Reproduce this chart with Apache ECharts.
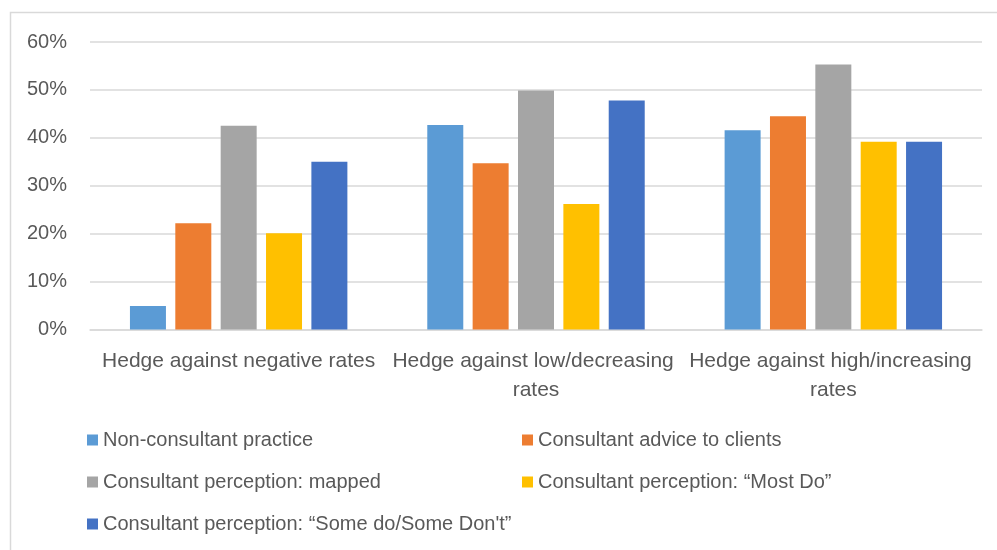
<!DOCTYPE html>
<html>
<head>
<meta charset="utf-8">
<title>Hedging practice by interest-rate scenario</title>
<script src="https://cdn.jsdelivr.net/npm/echarts@6/dist/echarts.min.js"></script>
<style>
  html, body { margin: 0; padding: 0; background: #ffffff; }
  #chart { width: 997px; height: 550px; }
</style>
</head>
<body>
<div id="chart"></div>
<script>
// Scenario categories along the x axis
const categories = [
  'Hedge against negative rates',
  'Hedge against low/decreasing rates',
  'Hedge against high/increasing rates'
];

// Series names (legend entries)
const seriesNames = [
  'Non-consultant practice',
  'Consultant advice to clients',
  'Consultant perception: mapped',
  'Consultant perception: \u201cMost Do\u201d',
  'Consultant perception: \u201cSome do/Some Don\'t\u201d'
];

// Share of respondents per scenario
const nonConsultantPractice = [0.049, 0.427, 0.416];
const consultantAdvice      = [0.222, 0.347, 0.445];
const perceptionMapped      = [0.425, 0.499, 0.553];
const perceptionMostDo      = [0.201, 0.262, 0.392];
const perceptionSomeDo      = [0.350, 0.478, 0.392];

// Y axis ticks
const yTicks = [0, 0.1, 0.2, 0.3, 0.4, 0.5, 0.6];

const seriesValues = [
  nonConsultantPractice,
  consultantAdvice,
  perceptionMapped,
  perceptionMostDo,
  perceptionSomeDo
];
const colors = ['#5B9BD5', '#ED7D31', '#A5A5A5', '#FFC000', '#4472C4'];

const font = 'Liberation Sans, Arial, sans-serif';
const textColor = '#595959';
const gridColor = '#d9d9d9';

const chart = echarts.init(document.getElementById('chart'), null, { renderer: 'canvas' });

const legendCommon = {
  orient: 'vertical',
  icon: 'rect',
  itemWidth: 11,
  itemHeight: 11,
  itemGap: 20,
  padding: 0,
  top: 429,
  selectedMode: false,
  textStyle: { fontFamily: font, fontSize: 20, color: textColor, lineHeight: 22 }
};

chart.setOption({
  animation: false,
  color: colors,
  graphic: [{
    type: 'polyline',
    shape: { points: [[10.5, 551], [10.5, 12.5], [998, 12.5]] },
    style: { stroke: gridColor, lineWidth: 1.5, fill: null },
    silent: true
  }],
  legend: [
    Object.assign({}, legendCommon, { left: 87, data: [seriesNames[0], seriesNames[2], seriesNames[4]] }),
    Object.assign({}, legendCommon, { left: 522, data: [seriesNames[1], seriesNames[3]] })
  ],
  grid: { left: 90, right: 15, top: 42, bottom: 220.5, containLabel: false },
  xAxis: {
    type: 'category',
    data: categories,
    axisLine: { show: true, lineStyle: { color: gridColor, width: 1.5 } },
    axisTick: { show: false },
    axisLabel: {
      interval: 0,
      margin: 17,
      width: 297,
      overflow: 'break',
      fontFamily: font,
      fontSize: 21,
      lineHeight: 29,
      color: textColor
    }
  },
  yAxis: {
    type: 'value',
    min: yTicks[0],
    max: yTicks[yTicks.length - 1],
    interval: yTicks[1] - yTicks[0],
    axisLine: { show: false },
    axisTick: { show: false },
    splitLine: { lineStyle: { color: gridColor, width: 1.5 } },
    axisLabel: {
      margin: 23,
      fontFamily: font,
      fontSize: 20,
      color: textColor,
      formatter: v => Math.round(v * 100) + '%'
    }
  },
  series: seriesNames.map((name, i) => ({
    name: name,
    type: 'bar',
    data: seriesValues[i],
    barWidth: 36,
    barGap: '26%',
    itemStyle: { color: colors[i] }
  }))
});
</script>
</body>
</html>
